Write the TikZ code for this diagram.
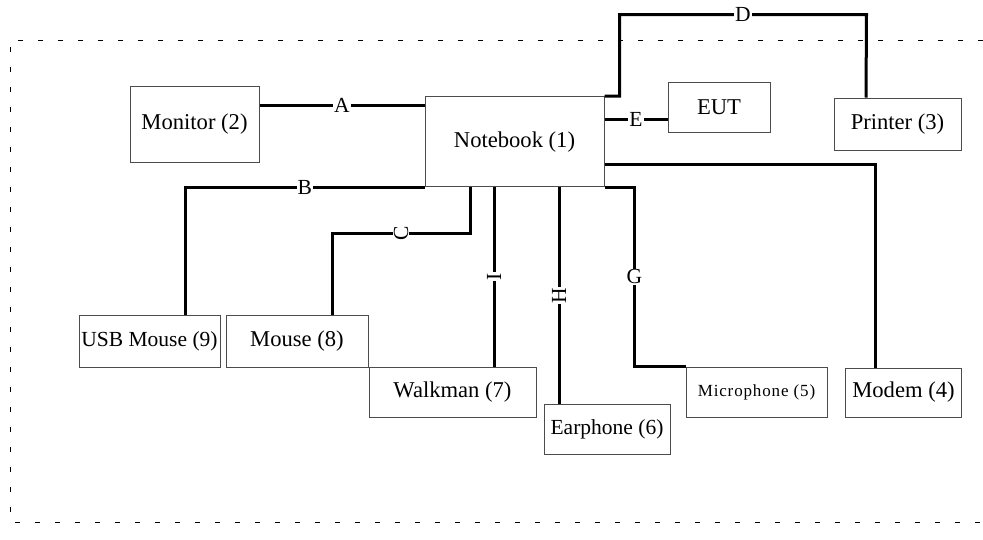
\documentclass[tikz,border=0pt]{standalone}
\usepackage{fontspec}
\setmainfont{Liberation Serif}
\newfontfamily\spacedfont[LetterSpace=5]{Liberation Serif}
\begin{document}
\begin{tikzpicture}[x=1pt,y=-1pt,
  box/.style={draw=black!70,line width=1pt,inner sep=0pt,font=\fontsize{22.6}{26}\selectfont},
  smallbox/.style={box,font=\fontsize{21.5}{25}\selectfont},
  cable/.style={line width=3pt},
  tag/.style={fill=white,inner sep=1pt,font=\fontsize{21.5}{25}\selectfont}]
\useasboundingbox (0,0) rectangle (983,539);
\draw[line width=1pt,dash pattern=on 5pt off 15pt] (983,40) -- (10,40) -- (10,522) -- (983,522);
\node[box,minimum width=179pt,minimum height=90pt] (nb) at (514.5,141.7) {Notebook (1)};
\node[box,minimum width=129pt,minimum height=76pt] (mon) at (194.5,124) {Monitor (2)};
\node[box,minimum width=102pt,minimum height=50pt] (eut) at (719,107.7) {EUT};
\node[box,minimum width=127pt,minimum height=52pt] (prn) at (897.5,124) {Printer (3)};
\node[smallbox,minimum width=141pt,minimum height=52pt] (usb) at (149.5,341.5) {USB Mouse (9)};
\node[box,minimum width=142pt,minimum height=52pt] (mouse) at (297,341.5) {Mouse (8)};
\node[box,minimum width=167pt,minimum height=50pt] (walk) at (452.5,392) {Walkman (7)};
\node[smallbox,minimum width=126pt,minimum height=50pt] (ear) at (607,429) {Earphone (6)};
\node[box,minimum width=141pt,minimum height=50pt,font=\spacedfont\fontsize{17}{20}\selectfont] (mic) at (756.5,392) {Microphone (5)};
\node[box,minimum width=116pt,minimum height=49pt] (modem) at (903.5,392.5) {Modem (4)};
\draw[cable] (mon.east |- 0,105) -- node[tag]{A} (nb.west |- 0,105);
\draw[cable] (nb.south west) -| node[tag,pos=0.25]{B} ([xshift=35.5pt]usb.north);
\draw[cable] ([xshift=-44.5pt]nb.south) -- ++(0,46.3) -| node[tag,rotate=90,pos=0.25]{C} ([xshift=35pt]mouse.north);
\draw[cable] (nb.north east) -- ++(15,0) -- ++(0,-81.7) -- node[tag]{D} ++(247,0) -- ([xshift=-31.5pt]prn.north);
\draw[cable] (nb.east |- 0,119) -- node[tag]{E} (eut.west |- 0,119);
\draw[cable] (nb.south east) -- ++(30,0) |- node[tag,pos=0.25]{G} (mic.north west);
\draw[cable] ([xshift=44.5pt]nb.south) -- node[tag,rotate=90]{H} ([xshift=-48pt]ear.north);
\draw[cable] ([xshift=-20.5pt]nb.south) -- node[tag,rotate=90]{I} ([xshift=41.5pt]walk.north);
\draw[cable] (nb.east |- 0,164) -| ([xshift=-28.5pt]modem.north);
\end{tikzpicture}
\end{document}
